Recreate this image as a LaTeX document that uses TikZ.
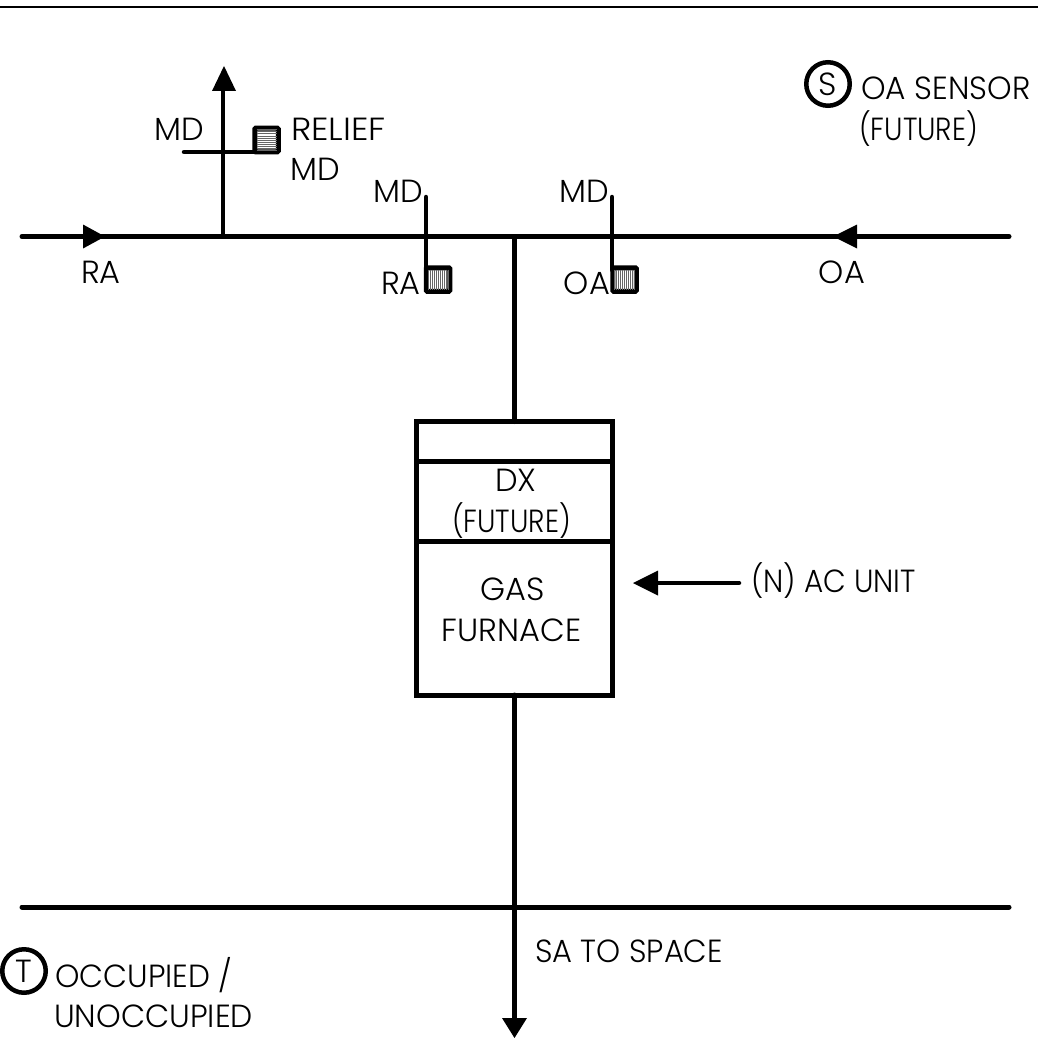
\documentclass[tikz,border=0pt]{standalone}
\usepackage{fontspec}
\setmainfont{Poppins}[UprightFont=* Light]
\newcommand{\sx}[2]{\scalebox{#1}[1]{#2}}
\tikzset{
  duct/.style={line width=5pt,line cap=round},
  vbar/.style={line width=4.5pt,line cap=round},
  flow/.style={draw=none,fill=black},
  lab/.style={font=\fontsize{32}{32}\selectfont,inner sep=0pt,align=center},
  sensor/.style={circle,draw,line width=4.5pt,minimum size=43.5pt,inner sep=0pt,font=\fontsize{32}{32}\selectfont},
  actuator/.style={draw,line width=5pt,minimum size=23.5pt,inner sep=0pt,outer sep=0pt,rounded corners=1pt},
}
\begin{document}
\begin{tikzpicture}[x=1pt,y=-1pt]
\useasboundingbox (0,0) rectangle (1038,1038);
% coordinates
\coordinate (topL) at (0,7); \coordinate (topR) at (1038,7);
\coordinate (raL) at (22,236.5); \coordinate (oaR) at (1009,236.5);
\coordinate (j1) at (223,236.5); \coordinate (j2) at (514.5,236.5);
\coordinate (relTop) at (223,85);
\coordinate (relL) at (184,152); \coordinate (relR) at (258,152);
\coordinate (raTop) at (426,197); \coordinate (raBot) at (426,270);
\coordinate (oaTop) at (612,197); \coordinate (oaBot) at (612,270);
\coordinate (saL) at (22,907); \coordinate (saR) at (1009,907);
\coordinate (saBot) at (514.5,1022);
\coordinate (acEnd) at (739,583); \coordinate (acArrow) at (650,583);
% top rule
\draw[line width=2.5pt] (topL) -- (topR);
% unit
\node[draw,line width=5pt,minimum width=195.5pt,minimum height=273.5pt,inner sep=0pt,outer sep=0pt,anchor=north west] (unit) at (416.5,421.5) {};
\coordinate (d1L) at (416.5,461); \coordinate (d1R) at (612,461);
\coordinate (d2L) at (416.5,541.5); \coordinate (d2R) at (612,541.5);
\draw[line width=5pt] (d1L) -- (d1R);
\draw[line width=5pt] (d2L) -- (d2R);
% ducts
\draw[duct] (raL) -- (oaR);
\draw[duct] (j2) -- (unit.north -| j2);
\draw[duct] (unit.south -| j2) -- (saBot);
\draw[duct] (saL) -- (saR);
\draw[vbar] (j1) -- (relTop);
\draw[vbar] (relL) -- (relR);
\draw[vbar] (raTop) -- (raBot);
\draw[vbar] (oaTop) -- (oaBot);
\draw[vbar] (acArrow) -- (acEnd);
% arrowheads
\fill[flow] (224,66) -- (236,91) -- (212,91) -- cycle;
\fill[flow] (105,236.5) -- (83,224.5) -- (83,248.5) -- cycle;
\fill[flow] (833,236.5) -- (857,224.5) -- (857,248.5) -- cycle;
\fill[flow] (633,583) -- (658,570.5) -- (658,595.5) -- cycle;
\fill[flow] (514.5,1038) -- (502,1018) -- (527,1018) -- cycle;
% actuators
\foreach \n/\cx/\cy/\hz in {rel/266.5/140/1,rab/438/279.5/0,oab/624.5/279.5/0}{
  \node[actuator] (act\n) at (\cx,\cy) {};
  \ifnum\hz=1
    \foreach \d in {-10,-8,...,10}{\draw[line width=1pt,black!60] (\cx-10,\cy+\d) -- (\cx+10,\cy+\d);}
  \else
    \foreach \d in {-10,-8,...,10}{\draw[line width=1pt,black!60] (\cx+\d,\cy-10) -- (\cx+\d,\cy+10);}
  \fi
}
% labels
\node[lab,anchor=base] (lMD1) at (179,140) {MD};
\node[lab,anchor=base west] (lRel) at (291,140) {\sx{1.08}{RELIEF}};
\node[lab,anchor=base west] (lRelMD) at (290,180) {MD};
\node[lab,anchor=base] (lMD2) at (398,202) {MD};
\node[lab,anchor=base] (lMD3) at (584,202) {MD};
\node[lab,anchor=base] (lRA) at (101,283) {RA};
\node[lab,anchor=base] (lRA2) at (401,294) {RA};
\node[lab,anchor=base] (lOA2) at (587,294) {OA};
\node[lab,anchor=base] (lOA) at (842,283) {OA};
\node[lab,anchor=base] (lDX) at (516,491) {DX};
\node[lab,anchor=base] (lFut) at (511.5,532) {\sx{.87}{(FUTURE)}};
\node[lab,anchor=base] (lGas) at (512.5,600) {GAS};
\node[lab,anchor=base] (lFur) at (511.5,641) {FURNACE};
\node[lab,anchor=base west] (lAC) at (751,592) {\sx{.92}{(N) AC UNIT}};
\node[lab,anchor=base west] (lSA) at (535,962) {\sx{.955}{SA TO SPACE}};
\node[sensor] (sS) at (828,84) {S};
\node[lab,anchor=base west] (lOAS) at (861,100) {\sx{.975}{OA SENSOR}};
\node[lab,anchor=base west] (lOAF) at (859,140) {\sx{.87}{(FUTURE)}};
\node[sensor] (sT) at (24,971) {T};
\node[lab,anchor=base west] (lOcc) at (55,987) {\sx{.97}{OCCUPIED /}};
\node[lab,anchor=base west] (lUn) at (54,1027) {\sx{.98}{UNOCCUPIED}};
\end{tikzpicture}
\end{document}
